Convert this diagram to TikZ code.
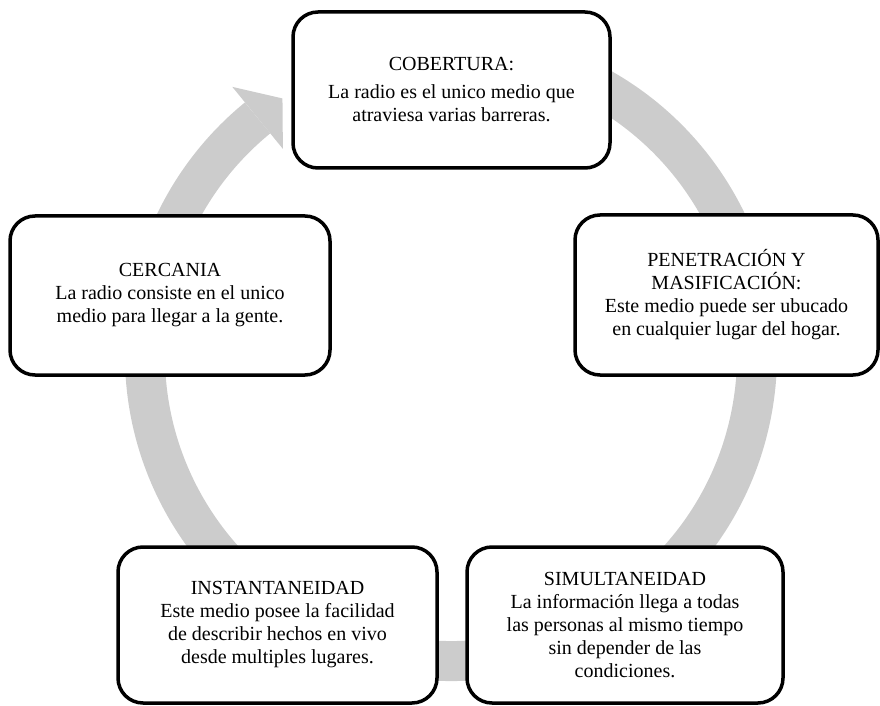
\documentclass[tikz,border=0pt]{standalone}
\usepackage{fontspec}
\setmainfont{Liberation Serif}
\begin{document}
\begin{tikzpicture}[x=1pt,y=1pt,
    caja/.style={draw, line width=3.5pt, rounded corners=25pt, fill=white,
        align=center, inner sep=0pt, font=\fontsize{20}{23}\selectfont},
    anillo/.style={draw=black!20, line width=40pt}]
    \useasboundingbox (0,0) rectangle (880,705);
    % the grey cycle arrow behind the boxes
    \begin{scope}[shift={(451pt,350pt)}]
        \draw[anillo] (80:306pt) arc[start angle=80, end angle=-230.8, radius=306pt];
        \fill[black!20] (129.2:266pt) -- (129.2:346pt) -- (123.3:307pt) -- cycle;
    \end{scope}
    % the five boxes
    \node[caja, minimum width=317pt, minimum height=156pt] (cob) at (451.5,615)
        {COBERTURA:\\[5pt] La radio es el unico medio que\\ atraviesa varias barreras.};
    \node[caja, minimum width=303pt, minimum height=160pt] (pen) at (726.5,410)
        {PENETRACIÓN Y\\ MASIFICACIÓN:\\ Este medio puede ser ubucado\\ en cualquier lugar del hogar.};
    \node[caja, minimum width=316pt, minimum height=156pt] (sim) at (625,80)
        {SIMULTANEIDAD\\ La información llega a todas\\ las personas al mismo tiempo\\ sin depender de las\\ condiciones.};
    \node[caja, minimum width=319pt, minimum height=156pt] (ins) at (277.5,80)
        {INSTANTANEIDAD\\ Este medio posee la facilidad\\ de describir hechos en vivo\\ desde multiples lugares.};
    \node[caja, minimum width=320pt, minimum height=159pt] (cer) at (170,409.5)
        {CERCANIA\\ La radio consiste en el unico\\ medio para llegar a la gente.};
\end{tikzpicture}
\end{document}
